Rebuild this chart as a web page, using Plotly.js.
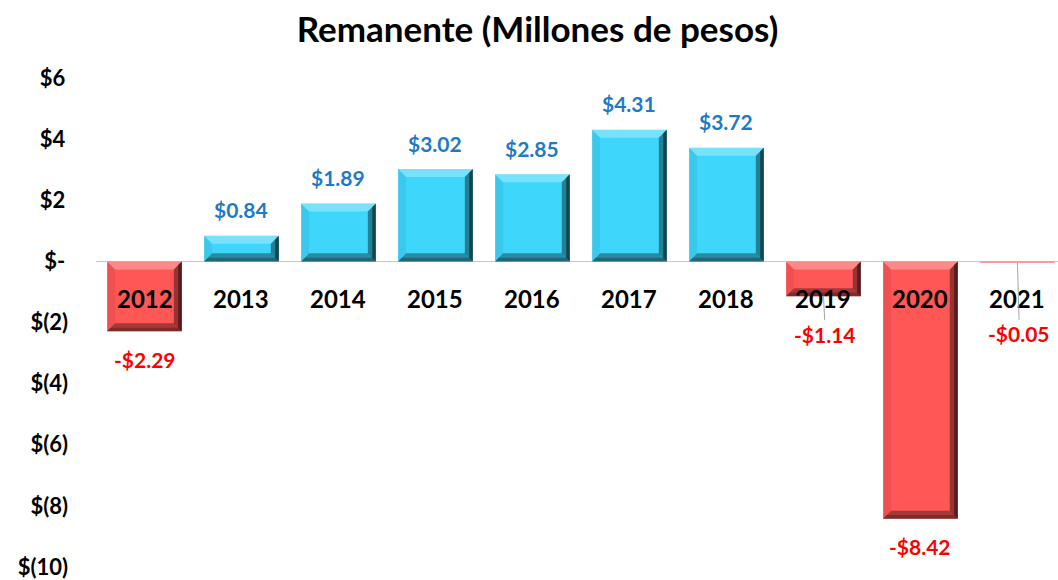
<!DOCTYPE html>
<html>
<head>
<meta charset="utf-8">
<script src="https://cdn.plot.ly/plotly-3.0.1.min.js"></script>
<style>html,body{margin:0;padding:0;background:#fff;}#chart{width:1058px;height:580px;}</style>
</head>
<body>
<div id="chart"></div>
<script>
const categories = ['2012','2013','2014','2015','2016','2017','2018','2019','2020','2021'];
const values = [-2.29, 0.84, 1.89, 3.02, 2.85, 4.31, 3.72, -1.14, -8.42, -0.05];
const valueLabels = ['-$2.29','$0.84','$1.89','$3.02','$2.85','$4.31','$3.72','-$1.14','-$8.42','-$0.05'];
const yTickVals = [6, 4, 2, 0, -2, -4, -6, -8, -10];
const yTickText = ['$6\u2009','$4\u2009','$2\u2009','$-\u2009','$(2)','$(4)','$(6)','$(8)','$(10)'];
// label offsets (px) for labels moved away from small bars (leader lines)
const labelLeader = [0, 0, 0, 0, 0, 0, 0, 38, 0, 71];

const W = 1058, H = 580;
const M = {l: 96, r: 0, t: 78, b: 13};
const yRange = [-10, 6];
const xRange = [-0.5, 9.418];
const barW = 0.77;
const pxPerX = (W - M.l - M.r) / (xRange[1] - xRange[0]);
const pxPerY = (H - M.t - M.b) / (yRange[1] - yRange[0]);

const blue = '#3ED6FB', red = '#FF5656';
const colors = values.map(v => v >= 0 ? blue : (Math.abs(v) * pxPerY < 4 ? '#FF9A9A' : red));
const labelColors = values.map(v => v >= 0 ? '#1F7AC6' : '#FF0000');
const font = 'Lato, "Open Sans", sans-serif';

const xIdx = categories.map((c, i) => i);
const trace = {
  type: 'bar', x: xIdx, y: values, width: barW,
  marker: {color: colors, line: {width: 0}},
  hoverinfo: 'skip'
};

const shapes = [];
values.forEach((v, i) => {
  const hpx = Math.abs(v) * pxPerY;
  if (hpx < 4) return;
  const bwPx = Math.min(8, hpx / 2.5);
  const bx = bwPx / pxPerX, by = bwPx / pxPerY;
  const bx2 = bx * 0.45, by2 = by * 0.45;
  const x0 = i - barW / 2, x1 = i + barW / 2;
  const yT = Math.max(v, 0), yB = Math.min(v, 0);
  const p = pts => 'M ' + pts.map(q => q[0].toFixed(4) + ',' + q[1].toFixed(4)).join(' L ') + ' Z';
  const add = (path, col) => shapes.push({type: 'path', xref: 'x', yref: 'y', path: path, fillcolor: col, line: {width: 0}, layer: 'above'});
  add(p([[x0, yT], [x1, yT], [x1 - bx, yT - by], [x0 + bx, yT - by]]), 'rgba(255,255,255,0.30)');
  add(p([[x0, yT], [x0, yB], [x0 + bx, yB + by], [x0 + bx, yT - by]]), 'rgba(0,0,0,0.06)');
  add(p([[x0, yB], [x1, yB], [x1 - bx, yB + by], [x0 + bx, yB + by]]), 'rgba(0,0,0,0.35)');
  add(p([[x1, yT], [x1, yB], [x1 - bx, yB + by], [x1 - bx, yT - by]]), 'rgba(0,0,0,0.40)');
  add(p([[x1, yT], [x1, yB], [x1 - bx2, yB + by2], [x1 - bx2, yT - by2]]), 'rgba(0,0,0,0.45)');
  add(p([[x0, yB], [x1, yB], [x1 - bx2, yB + by2], [x0 + bx2, yB + by2]]), 'rgba(0,0,0,0.25)');
});

const annotations = [];
categories.forEach((c, i) => {
  annotations.push({
    x: i, y: 0, xref: 'x', yref: 'y', text: '<b>' + c + '</b>', showarrow: false,
    yshift: -37, font: {family: font, size: 24, color: '#000000'}
  });
});
values.forEach((v, i) => {
  if (labelLeader[i]) {
    annotations.push({
      x: i, y: v, xref: 'x', yref: 'y', text: '<b>' + valueLabels[i] + '</b>',
      showarrow: true, arrowhead: 0, arrowwidth: 1, arrowcolor: '#A6A6A6', ax: 2, ay: labelLeader[i],
      font: {family: font, size: 21, color: labelColors[i]}
    });
  } else {
    annotations.push({
      x: i, y: v, xref: 'x', yref: 'y', text: '<b>' + valueLabels[i] + '</b>', showarrow: false,
      yshift: v >= 0 ? 26 : -28, font: {family: font, size: 21, color: labelColors[i]}
    });
  }
});

const layout = {
  width: W, height: H,
  margin: M,
  paper_bgcolor: '#fff', plot_bgcolor: '#fff',
  showlegend: false,
  title: {text: '<b>Remanente (Millones de pesos)</b>', x: 0.508, xanchor: 'center', y: 0.948, yanchor: 'middle',
          font: {family: font, size: 35, color: '#000'}},
  xaxis: {range: xRange, showticklabels: false, showgrid: false, zeroline: false, showline: false, ticks: ''},
  yaxis: {range: yRange, tickvals: yTickVals, ticktext: yTickText, showgrid: false,
          zeroline: true, zerolinecolor: '#C8C8C8', zerolinewidth: 1, showline: false, ticks: '',
          ticklabelstandoff: 27, tickfont: {family: font, size: 22, color: '#000', weight: 'bold'}},
  shapes: shapes,
  annotations: annotations
};

Plotly.newPlot('chart', [trace], layout, {displayModeBar: false});
</script>
</body>
</html>
